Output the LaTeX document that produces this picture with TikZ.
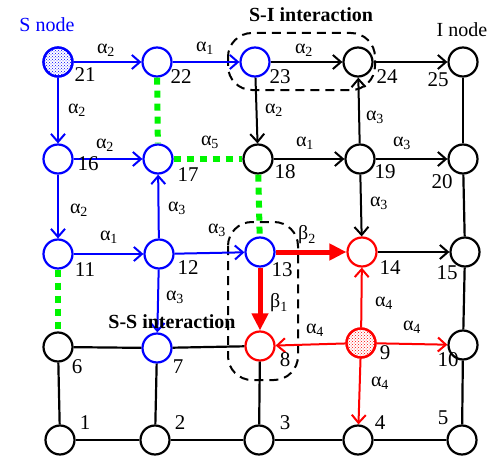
\documentclass[tikz,border=0pt]{standalone}
\usepackage{fontspec}
\setmainfont{Liberation Serif}
\usetikzlibrary{arrows.meta,patterns}
\definecolor{pureblue}{RGB}{0,0,255}
\definecolor{purered}{RGB}{255,0,0}
\definecolor{puregreen}{RGB}{0,245,0}
\newcommand\al[1]{α\textsubscript{#1}}
\newcommand\be[1]{β\textsubscript{#1}}
\begin{document}
\begin{tikzpicture}[x=1pt,y=-1pt,
  vtx/.style={circle, minimum size=29pt, inner sep=0pt, line width=2.2pt, draw, fill=white},
  bv/.style={vtx, draw=pureblue},
  rv/.style={vtx, draw=purered},
  kv/.style={vtx, draw=black},
  txt/.style={font=\fontsize{20}{20}\selectfont, inner sep=0pt},
  numtxt/.style={font=\fontsize{21}{21}\selectfont, inner sep=0pt},
  arr/.style={line width=2pt, -{Straight Barb[length=8pt,width=14pt]}},
  wire/.style={line width=2.2pt},
  gdot/.style={draw=puregreen, line width=6pt, dash pattern=on 7pt off 6pt},
  bigred/.style={draw=purered, line width=5pt, -{Triangle[length=17pt,width=16pt]}},
  zone/.style={draw=black, line width=2pt, dash pattern=on 9pt off 6pt, rounded corners=24pt}
]
\useasboundingbox (0,0) rectangle (498,460);

% interaction zones
\draw[zone] (228,33) rectangle (375,90);
\draw[zone] (228,222) rectangle (298,380);

% grid vertices
\foreach \n/\x/\y/\s in {
  21/58/62/bv, 22/157/62/bv, 23/255/62/bv, 24/358/62/kv, 25/463/62/kv,
  16/58/159/bv, 17/158/159/bv, 18/258/159/kv, 19/360/159/kv, 20/463/159/kv,
  11/58/254/bv, 12/159/254/bv, 13/260/252/bv, 14/362/252/rv, 15/465/252/kv,
  6/58/347/kv, 7/157/348/bv, 8/260/346/rv, 9/361/343/rv, 10/463/345/kv,
  1/60/440/kv, 2/155/440/kv, 3/259/440/kv, 4/358/440/kv, 5/462/440/kv}
  \node[\s] (n\n) at (\x,\y) {};

% source and infected fills
\node[vtx, draw=pureblue, pattern=crosshatch dots, pattern color=pureblue] (f21) at (n21) {};
\node[vtx, draw=purered, pattern=crosshatch dots, pattern color=purered] (f9) at (n9) {};

% plain black links
\foreach \a/\b in {25/20, 20/15, 15/10, 10/5, 6/7, 7/8, 6/1, 7/2, 8/3, 1/2, 2/3, 3/4, 4/5}
  \draw[wire] (n\a) -- (n\b);

% green dotted links
\foreach \a/\b in {22/17, 17/18, 11/6, 18/13}
  \draw[gdot] (n\a) -- (n\b);

% blue directed links
\foreach \a/\b in {21/22, 22/23, 21/16, 16/17, 16/11, 11/12, 12/17, 12/13, 12/7}
  \draw[arr, draw=pureblue] (n\a) -- (n\b);

% black directed links
\foreach \a/\b in {23/24, 24/25, 23/18, 18/19, 19/24, 19/20, 19/14, 14/15}
  \draw[arr, draw=black] (n\a) -- (n\b);

% red directed links
\foreach \a/\b in {9/14, 9/10, 9/8, 9/4}
  \draw[arr, draw=purered] (n\a) -- (n\b);
\draw[bigred] (n13) -- (n14);
\draw[bigred] (n13) -- (n8);

% vertex numbers
\foreach \n/\x/\y in {
  21/85/75, 22/181/77, 23/280/77, 24/387/77, 25/438/80,
  16/88/164, 17/188/175, 18/285/172, 19/385/172, 20/442/182,
  11/85/270, 12/188/268, 13/282/270, 14/390/268, 15/447/273,
  6/77/367, 7/178/367, 8/285/360, 9/385/353, 10/448/360,
  1/85/423, 2/180/423, 3/285/423, 4/380/423, 5/443/418}
  \node[numtxt] (t\n) at (\x,\y) {\n};

% rates
\node[txt] (r1) at (106,50) {\al{2}};
\node[txt] (r2) at (205,48) {\al{1}};
\node[txt] (r3) at (77,110) {\al{2}};
\node[txt] (r4) at (105,145) {\al{2}};
\node[txt] (r5) at (210,142) {\al{5}};
\node[txt] (r6) at (304,50) {\al{2}};
\node[txt] (r7) at (274,110) {\al{2}};
\node[txt] (r8) at (375,117) {\al{3}};
\node[txt] (r9) at (305,143) {\al{1}};
\node[txt] (r10) at (402,143) {\al{3}};
\node[txt] (r11) at (79,210) {\al{2}};
\node[txt] (r12) at (177,208) {\al{3}};
\node[txt] (r13) at (109,237) {\al{1}};
\node[txt] (r14) at (217,230) {\al{3}};
\node[txt] (r15) at (175,297) {\al{3}};
\node[txt] (r16) at (379,203) {\al{3}};
\node[txt] (r17) at (307,235) {\be{2}};
\node[txt] (r18) at (279,303) {\be{1}};
\node[txt] (r19) at (384,303) {\al{4}};
\node[txt] (r20) at (315,330) {\al{4}};
\node[txt] (r21) at (412,327) {\al{4}};
\node[txt] (r22) at (380,383) {\al{4}};

% captions
\node[txt, text=pureblue] (snode) at (47,25) {S node};
\node[txt] (inode) at (462,30) {I node};
\node[txt, font=\fontsize{20}{20}\selectfont\bfseries] (si) at (311,15) {S-I interaction};
\node[txt, font=\fontsize{20}{20}\selectfont\bfseries] (ss) at (172,322) {S-S interaction};
\end{tikzpicture}
\end{document}
